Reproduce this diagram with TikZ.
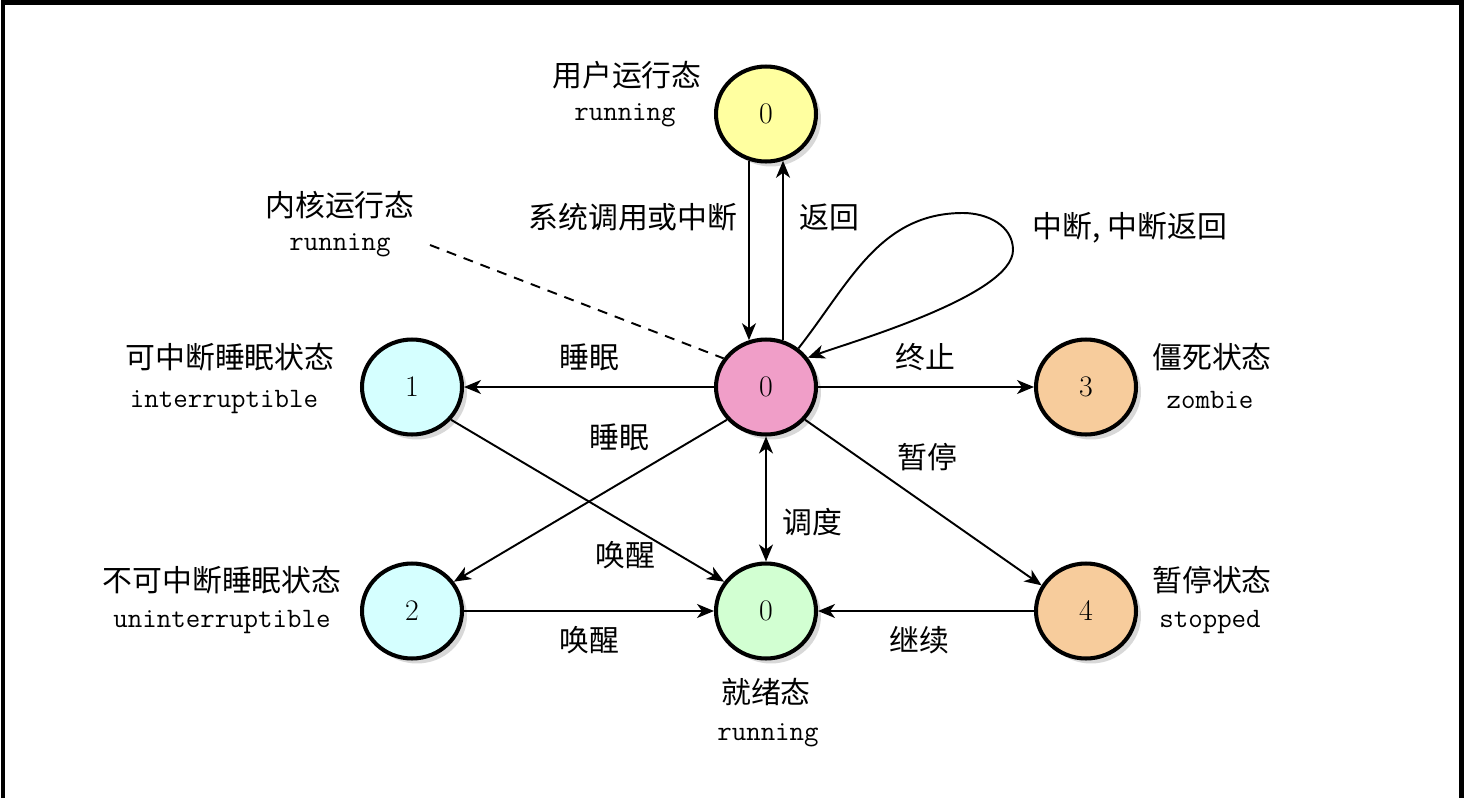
\documentclass[tikz,border=0pt]{standalone}
\usepackage{fontspec}
\newfontfamily\cjk{Noto Sans CJK SC}
\usetikzlibrary{arrows.meta,shapes.geometric,shadows}
\definecolor{userc}{HTML}{FFFFA0}
\definecolor{kernc}{HTML}{F09EC8}
\definecolor{sleepc}{HTML}{D5FFFF}
\definecolor{endc}{HTML}{F7CC9C}
\definecolor{readyc}{HTML}{D2FFD2}
\tikzset{
  proc/.style={ellipse, draw, line width=2.3pt, minimum width=2cm, minimum height=1.9cm,
    inner sep=0pt, font=\fontsize{17}{20}\selectfont,
    drop shadow={shadow xshift=0.1cm, shadow yshift=-0.1cm, fill=black!30}},
  zh/.style={font=\cjk\fontsize{17}{20}\selectfont},
  tt/.style={font=\ttfamily\fontsize{16}{20}\selectfont},
  arr/.style={line width=1.1pt, -{Stealth[length=0.34cm,width=0.28cm,inset=0.1cm]}},
  darr/.style={line width=1.1pt, {Stealth[length=0.34cm,width=0.28cm,inset=0.1cm]}-{Stealth[length=0.34cm,width=0.28cm,inset=0.1cm]}}
}
\begin{document}
\begin{tikzpicture}[x=0.02cm,y=-0.02cm]
\useasboundingbox (0,0) rectangle (1464,798);
\draw[line width=2.3pt] (3,798) -- (3,2.5) -- (1461.5,2.5) -- (1461.5,798);
% states
\node [proc, fill=userc] (user) at (766,114) {0};
\node [proc, fill=kernc] (kernel) at (766,387) {0};
\node [proc, fill=sleepc] (intr) at (412,387) {1};
\node [proc, fill=sleepc] (unintr) at (412,611) {2};
\node [proc, fill=endc] (zombie) at (1086,387) {3};
\node [proc, fill=endc] (stopped) at (1086,611) {4};
\node [proc, fill=readyc] (ready) at (766,611) {0};
% state names
\node [zh] (usertxt) at (627,75) {用户运行态};
\node [tt] (userrun) at (625,115) {running};
\node [zh] (kerntxt) at (340,205) {内核运行态};
\node [tt] (kernrun) at (340,245) {running};
\node [zh] (intrtxt) at (230,357) {可中断睡眠状态};
\node [tt] (intrtt) at (224,402) {interruptible};
\node [zh] (unintrtxt) at (222,580) {不可中断睡眠状态};
\node [tt] (unintrtt) at (222,622) {uninterruptible};
\node [zh] (zombietxt) at (1212,357) {僵死状态};
\node [tt] (zombiett) at (1210,400) {zombie};
\node [zh] (stoppedtxt) at (1212,580) {暂停状态};
\node [tt] (stoppedtt) at (1210,622) {stopped};
\node [zh] (readytxt) at (766,692) {就绪态};
\node [tt] (readyrun) at (768,735) {running};
% transitions
\draw[arr] (user.250) -- (kernel.110);
\draw[arr] (kernel.70) -- (user.290);
\node [zh] at (633,217) {系统调用或中断};
\node [zh] at (829,217) {返回};
\coordinate (looptop) at (963,213);
\coordinate (loopright) at (1013,250);
\draw[arr] (kernel.50) to[out=52,in=180] (looptop) to[out=0,in=90] (loopright)
  to[out=-90,in=20,looseness=0.5] (kernel.35);
\node [zh] at (1130,228) {中断, 中断返回};
\draw[arr] (kernel.west) -- (intr.east);
\node [zh] at (589,357) {睡眠};
\draw[arr] (kernel.220) -- (unintr.35);
\node [zh] at (619,437) {睡眠};
\draw[arr] (intr.320) -- (ready.145);
\node [zh] at (625,555) {唤醒};
\draw[arr] (unintr.east) -- (ready.west);
\node [zh] at (589,640) {唤醒};
\draw[darr] (kernel.south) -- (ready.north);
\node [zh] at (812,522) {调度};
\draw[arr] (kernel.east) -- (zombie.west);
\node [zh] at (925,357) {终止};
\draw[arr] (kernel.320) -- (stopped.150);
\node [zh] at (927,457) {暂停};
\draw[arr] (stopped.west) -- (ready.east);
\node [zh] at (919,640) {继续};
% pointer to kernel state
\coordinate (dashstart) at (430,245);
\draw[line width=1.1pt, dash pattern=on 0.2cm off 0.16cm] (dashstart) -- (kernel.146);
\end{tikzpicture}
\end{document}
